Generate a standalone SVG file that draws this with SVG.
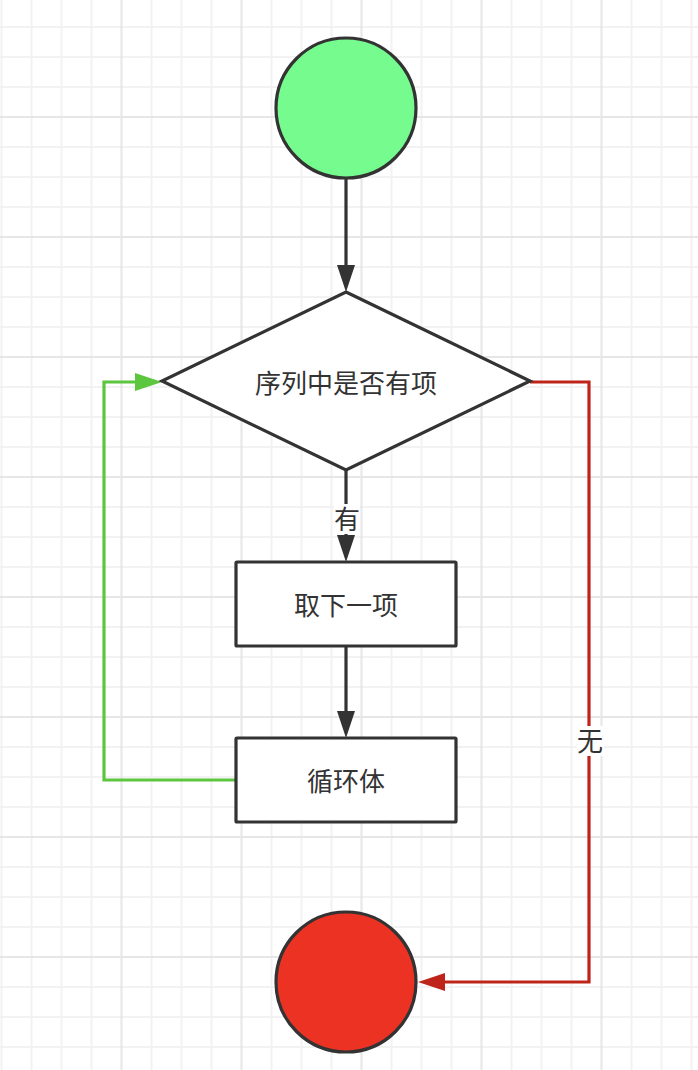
<svg xmlns="http://www.w3.org/2000/svg" width="698" height="1070" viewBox="0 0 698 1070">
<style>
.minor{stroke:#f2f2f2;stroke-width:2;fill:none}
.major{stroke:#e6e6e6;stroke-width:2;fill:none}
.shape{stroke:#333333;stroke-width:3.2}
.lbl{font-family:"Noto Sans CJK SC","Noto Sans",sans-serif;font-size:26px;fill:#333333;text-anchor:middle;dominant-baseline:central}
.conn{fill:none;stroke-width:3.2}
</style>
<defs>
<marker id="ahBlack" markerUnits="userSpaceOnUse" viewBox="0 0 27 18" refX="0" refY="9" markerWidth="27" markerHeight="18" orient="auto"><path d="M0,0 L27,9 L0,18 Z" fill="#333333"/></marker>
<marker id="ahGreen" markerUnits="userSpaceOnUse" viewBox="0 0 27 18" refX="0" refY="9" markerWidth="27" markerHeight="18" orient="auto"><path d="M0,0 L27,9 L0,18 Z" fill="#5bc63e"/></marker>
<marker id="ahRed" markerUnits="userSpaceOnUse" viewBox="0 0 27 18" refX="0" refY="9" markerWidth="27" markerHeight="18" orient="auto"><path d="M0,0 L27,9 L0,18 Z" fill="#bf241a"/></marker>
</defs>
<rect x="0" y="0" width="698" height="1070" fill="#ffffff"/>
<g id="grid">
<path class="minor" d="M1.5 0V1070M31.5 0V1070M61.5 0V1070M91.5 0V1070M151.5 0V1070M181.5 0V1070M211.5 0V1070M271.5 0V1070M301.5 0V1070M331.5 0V1070M391.5 0V1070M421.5 0V1070M451.5 0V1070M511.5 0V1070M541.5 0V1070M571.5 0V1070M631.5 0V1070M661.5 0V1070M691.5 0V1070M0 27H698M0 57H698M0 87H698M0 147H698M0 177H698M0 207H698M0 267H698M0 297H698M0 327H698M0 387H698M0 417H698M0 447H698M0 507H698M0 537H698M0 567H698M0 627H698M0 657H698M0 687H698M0 747H698M0 777H698M0 807H698M0 867H698M0 897H698M0 927H698M0 987H698M0 1017H698M0 1047H698"/>
<path class="major" d="M121.5 0V1070M241.5 0V1070M361.5 0V1070M481.5 0V1070M601.5 0V1070M0 117H698M0 237H698M0 357H698M0 477H698M0 597H698M0 717H698M0 837H698M0 957H698"/>
</g>
<g id="connectors">
<path class="conn" stroke="#333333" d="M346 178V265" marker-end="url(#ahBlack)"/>
<path class="conn" stroke="#333333" d="M346 470V535" marker-end="url(#ahBlack)"/>
<path class="conn" stroke="#333333" d="M346 646V711" marker-end="url(#ahBlack)"/>
<path class="conn" stroke="#5bc63e" d="M236 780H104V382H135" marker-end="url(#ahGreen)"/>
<path class="conn" stroke="#bf241a" d="M530 382H589V982H445" marker-end="url(#ahRed)"/>
<rect x="334" y="504" width="26" height="30" fill="#ffffff"/>
<text class="lbl" x="347" y="517">有</text>
<rect x="576" y="726" width="28" height="30" fill="#ffffff"/>
<text class="lbl" x="590" y="739">无</text>
</g>
<g id="start">
<circle class="shape" cx="346" cy="108" r="70" fill="#75fb8e"/>
</g>
<g id="decision">
<path class="shape" d="M346 292L530 381L346 470L162 381Z" fill="#ffffff" stroke-linejoin="miter"/>
<text class="lbl" x="346" y="381">序列中是否有项</text>
</g>
<g id="take-next">
<rect class="shape" x="236" y="562" width="220" height="84" rx="1" fill="#ffffff"/>
<text class="lbl" x="346" y="603">取下一项</text>
</g>
<g id="loop-body">
<rect class="shape" x="236" y="738" width="220" height="84" rx="1" fill="#ffffff"/>
<text class="lbl" x="346" y="779">循环体</text>
</g>
<g id="end">
<circle class="shape" cx="346" cy="982" r="70" fill="#ec3223"/>
</g>
</svg>
